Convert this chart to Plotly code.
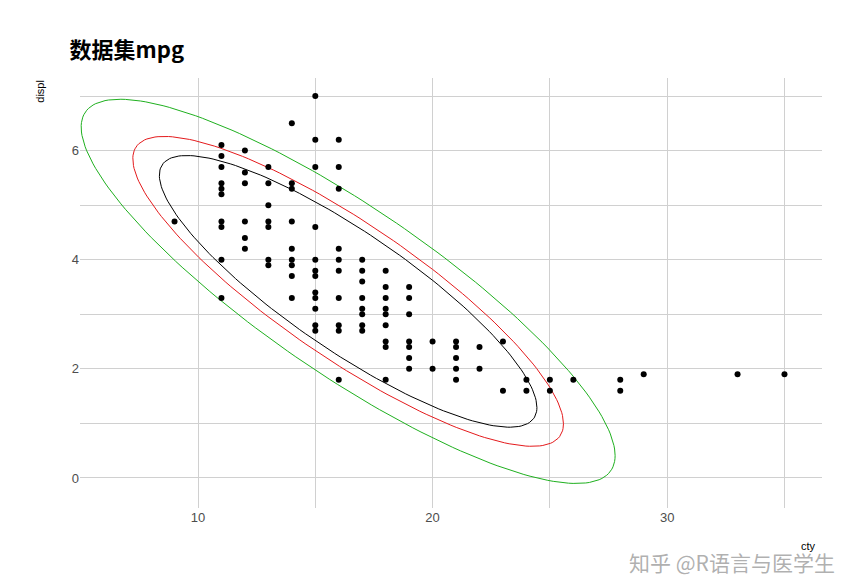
import numpy as np
import plotly.graph_objects as go

# cty columns with displ values (unique points)
cty_cols = [9, 11, 12, 13, 14, 15, 16, 17, 18, 19, 20, 21, 22, 23, 24, 25, 26, 28, 29, 33, 35]
displ_vals = [
    [4.7],
    [6.1, 5.9, 5.7, 5.4, 5.3, 5.2, 4.7, 4.6, 4.0, 3.3],
    [6.0, 5.6, 5.4, 4.7, 4.4, 4.2],
    [5.7, 5.4, 5.0, 4.7, 4.6, 4.0, 3.9],
    [6.5, 5.4, 5.3, 4.7, 4.2, 4.0, 3.9, 3.7, 3.3],
    [7.0, 6.2, 5.7, 4.6, 4.0, 3.8, 3.7, 3.4, 3.3, 3.1, 2.8, 2.7],
    [6.2, 5.7, 5.3, 4.2, 4.0, 3.8, 3.3, 2.8, 2.7, 1.8],
    [4.0, 3.8, 3.6, 3.3, 3.1, 3.0, 2.8, 2.7],
    [3.8, 3.5, 3.3, 3.1, 3.0, 2.8, 2.5, 2.4, 1.8],
    [3.5, 3.3, 3.0, 2.5, 2.4, 2.2, 2.0],
    [2.5, 2.0],
    [2.5, 2.4, 2.2, 2.0, 1.8],
    [2.4, 2.0],
    [2.5, 1.6],
    [1.8, 1.6],
    [1.8, 1.6],
    [1.8],
    [1.8, 1.6],
    [1.9],
    [1.9],
    [1.9],
]

# ellipse parameters
center = (16.4, 3.42)
sd_x, sd_y, rho = 3.75, 1.16, -0.855
levels = [0.90, 0.95, 0.99]
level_colors = ["black", "#E41A1C", "#1FB01F"]

xs, ys = [], []
for c, vals in zip(cty_cols, displ_vals):
    for v in vals:
        xs.append(c); ys.append(v)

fig = go.Figure()
cov = np.array([[sd_x**2, rho*sd_x*sd_y], [rho*sd_x*sd_y, sd_y**2]])
L = np.linalg.cholesky(cov)
t = np.linspace(0, 2*np.pi, 200)
circ = np.vstack([np.cos(t), np.sin(t)])
for lev, col in zip(levels, level_colors):
    r = np.sqrt(-2*np.log(1-lev))
    pts = L @ circ * r
    fig.add_trace(go.Scatter(x=pts[0]+center[0], y=pts[1]+center[1], mode="lines",
                             line=dict(color=col, width=1), hoverinfo="skip"))
fig.add_trace(go.Scatter(x=xs, y=ys, mode="markers", marker=dict(color="black", size=6)))

grid = "#d0d0d0"
fig.update_layout(
    width=855, height=570, showlegend=False,
    plot_bgcolor="white", paper_bgcolor="white",
    margin=dict(l=72, r=41, t=70, b=70),
    title=dict(text="<b>数据集mpg</b>", x=0.072, xanchor="left", y=0.925, yanchor="middle",
               font=dict(size=22, color="black", family="Noto Sans CJK SC")),
    font=dict(family="Liberation Sans", color="#4d4d4d", size=13),
    xaxis=dict(range=[4.97, 36.6], tickvals=[10, 20, 30], showgrid=True, gridcolor=grid,
               minor=dict(tickvals=[5, 15, 25, 35], showgrid=True, gridcolor=grid),
               zeroline=False, showline=False, ticks=""),
    yaxis=dict(range=[-0.55, 7.33], tickvals=[0, 2, 4, 6], showgrid=True, gridcolor=grid,
               minor=dict(tickvals=[1, 3, 5, 7], showgrid=True, gridcolor=grid),
               zeroline=False, showline=False, ticks=""),
)
fig.add_annotation(text="displ", xref="paper", yref="paper", x=-0.055, y=1.0, xanchor="center", yanchor="top",
                   textangle=-90, showarrow=False, font=dict(size=11, color="black"))
fig.add_annotation(text="cty", xref="paper", yref="paper", x=0.995, y=-0.07, xanchor="right", yanchor="top",
                   showarrow=False, font=dict(size=11, color="black"))
fig.add_annotation(text="知乎 @R语言与医学生", xref="paper", yref="paper", x=1.02, y=-0.085, xanchor="right", yanchor="top",
                   showarrow=False, font=dict(size=21, color="rgba(150,150,150,0.75)", family="Noto Sans CJK SC"))
fig.write_html("out.html")
